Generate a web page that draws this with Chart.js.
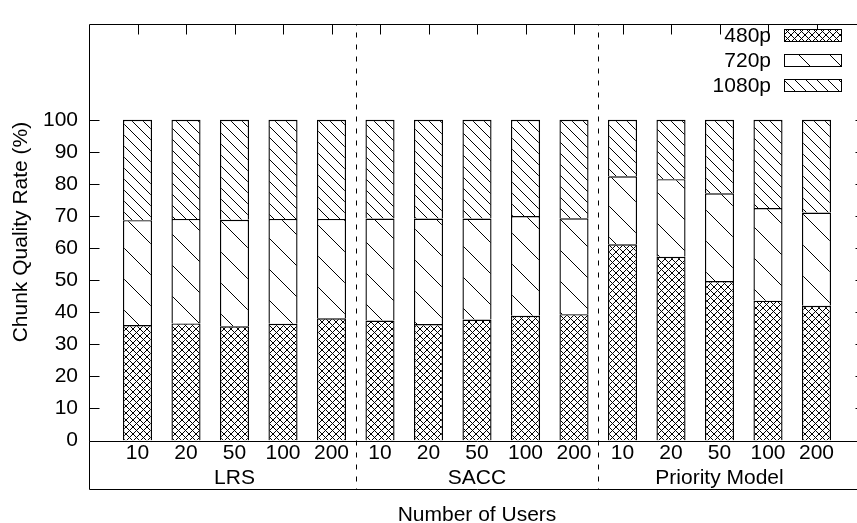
<!DOCTYPE html>
<html>
<head>
<meta charset="utf-8">
<script src="https://cdn.jsdelivr.net/npm/chart.js@4.4.1/dist/chart.umd.min.js"></script>
<style>
  html, body { margin: 0; padding: 0; background: #fff; overflow: hidden; }
  #wrap { width: 870px; height: 530px; }
</style>
</head>
<body>
<div id="wrap"><canvas id="quality" width="870" height="530"></canvas></div>
<script>
// categories
const userLabels = ['10', '20', '50', '100', '200'];
const groupLabels = ['LRS', 'SACC', 'Priority Model'];
const yTickLabels = [0, 10, 20, 30, 40, 50, 60, 70, 80, 90, 100];

// share of chunks per quality (%), LRS x5, SACC x5, Priority Model x5
const q480 = [36.0, 36.5, 35.6, 36.4, 38.1, 37.4, 36.3, 37.7, 38.9, 39.4, 61.2, 57.3, 49.7, 43.6, 42.0];
const q720 = [32.7, 32.6, 33.2, 32.7, 31.0, 31.8, 32.9, 31.5, 31.1, 29.9, 21.2, 24.2, 27.4, 28.9, 29.1];
const q1080 = [31.3, 30.9, 31.2, 30.9, 30.9, 30.8, 30.8, 30.8, 30.0, 30.7, 17.6, 18.5, 22.9, 27.5, 28.9];

// hatch fill, drawn pixel by pixel so the lines stay crisp
function hatch(period, back, fwd) {
    const c = document.createElement('canvas');
    c.width = period;
    c.height = period;
    const g = c.getContext('2d');
    g.fillStyle = '#fff';
    g.fillRect(0, 0, period, period);
    g.fillStyle = '#000';
    for (let i = 0; i < period; i++) {
        if (back) g.fillRect(i, i, 1, 1);
        if (fwd) g.fillRect(i, period - 1 - i, 1, 1);
    }
    return g.createPattern(c, 'repeat');
}

const fills = [hatch(7, true, true), hatch(31, true, false), hatch(11, true, false)];
const seriesNames = ['480p', '720p', '1080p'];
const series = [q480, q720, q1080];
const FONT = '"Liberation Sans", Arial, sans-serif';

const framePlugin = {
    id: 'frame',
    afterDraw(chart) {
        const { ctx, chartArea: a, scales: { x, y } } = chart;
        const L = Math.round(a.left) + 0.5;
        const R = Math.round(a.right) + 0.5;
        const T = Math.round(a.top) + 0.5;
        const B = Math.round(a.bottom) + 0.5;
        const boxBottom = 489.5;

        ctx.save();
        ctx.strokeStyle = '#000';
        ctx.lineWidth = 1;
        ctx.beginPath();
        ctx.rect(L, T, R - L, B - T);
        ctx.moveTo(L, B);
        ctx.lineTo(L, boxBottom);
        ctx.lineTo(R, boxBottom);
        ctx.lineTo(R, B);
        yTickLabels.forEach(v => {
            const py = Math.round(y.getPixelForValue(v)) + 0.5;
            ctx.moveTo(L, py); ctx.lineTo(L + 10, py);
            ctx.moveTo(R, py); ctx.lineTo(R - 10, py);
        });
        q480.forEach((v, i) => {
            const px = Math.round(x.getPixelForValue(i)) + 0.5;
            ctx.moveTo(px, T); ctx.lineTo(px, T + 10);
        });
        ctx.stroke();

        // dashed separators between the groups
        ctx.setLineDash([5, 7]);
        ctx.lineDashOffset = -8;
        ctx.beginPath();
        for (let k = 1; k < groupLabels.length; k++) {
            const px = Math.round(x.getPixelForValue(k * userLabels.length - 0.5)) + 0.5;
            ctx.moveTo(px, T);
            ctx.lineTo(px, boxBottom);
        }
        ctx.stroke();
        ctx.setLineDash([]);

        // legend, top right
        ctx.font = '21px ' + FONT;
        ctx.textAlign = 'right';
        ctx.textBaseline = 'middle';
        chart.data.datasets.forEach((ds, d) => {
            const top = Math.round(28.7 + d * 25.3);
            ctx.fillStyle = ds.backgroundColor;
            ctx.fillRect(784, top, 58, 13);
            ctx.strokeRect(784.5, top + 0.5, 57, 12);
            ctx.fillStyle = '#000';
            ctx.fillText(ds.label, 771, top + 7);
        });
        ctx.restore();
    }
};

Chart.defaults.font.family = FONT;
Chart.defaults.font.size = 21;
Chart.defaults.color = '#000';

new Chart(document.getElementById('quality'), {
    type: 'bar',
    data: {
        datasets: series.map((vals, d) => ({
            label: seriesNames[d],
            data: vals.map((v, i) => ({ x: i, y: v })),
            backgroundColor: fills[d],
            borderColor: '#000',
            borderWidth: 1.4,
            barPercentage: 0.6,
            categoryPercentage: 1
        }))
    },
    options: {
        responsive: false,
        animation: false,
        devicePixelRatio: 1,
        events: [],
        layout: { padding: { top: 12, right: 5, left: 0, bottom: 0 } },
        plugins: {
            legend: { display: false },
            tooltip: { enabled: false }
        },
        scales: {
            x: {
                type: 'linear',
                min: -1,
                max: 15,
                stacked: true,
                offset: false,
                grid: { display: false, drawTicks: false },
                border: { display: false },
                afterBuildTicks: scale => {
                    scale.ticks = q480.map((v, i) => ({ value: i }));
                },
                afterFit: scale => { scale.height = 89.5; },
                ticks: {
                    autoSkip: false,
                    maxRotation: 0,
                    padding: 1,
                    font: { size: 21, lineHeight: 1.16 },
                    callback: value => {
                        const j = value % userLabels.length;
                        const g = Math.floor(value / userLabels.length);
                        return j === 2 ? [userLabels[j], groupLabels[g]] : userLabels[j];
                    }
                },
                title: {
                    display: true,
                    text: 'Number of Users',
                    font: { size: 21, lineHeight: 1.2 },
                    padding: { top: 0, bottom: 2 }
                }
            },
            y: {
                min: 0,
                max: 130,
                stacked: true,
                grid: { display: false, drawTicks: false },
                border: { display: false },
                afterBuildTicks: scale => {
                    scale.ticks = yTickLabels.map(v => ({ value: v }));
                },
                afterFit: scale => { scale.width = 89; },
                ticks: { padding: 11 },
                title: {
                    display: true,
                    text: 'Chunk Quality Rate (%)',
                    font: { size: 21, lineHeight: 1.2 },
                    padding: { top: 9, bottom: 0 }
                }
            }
        }
    },
    plugins: [framePlugin]
});
</script>
</body>
</html>
